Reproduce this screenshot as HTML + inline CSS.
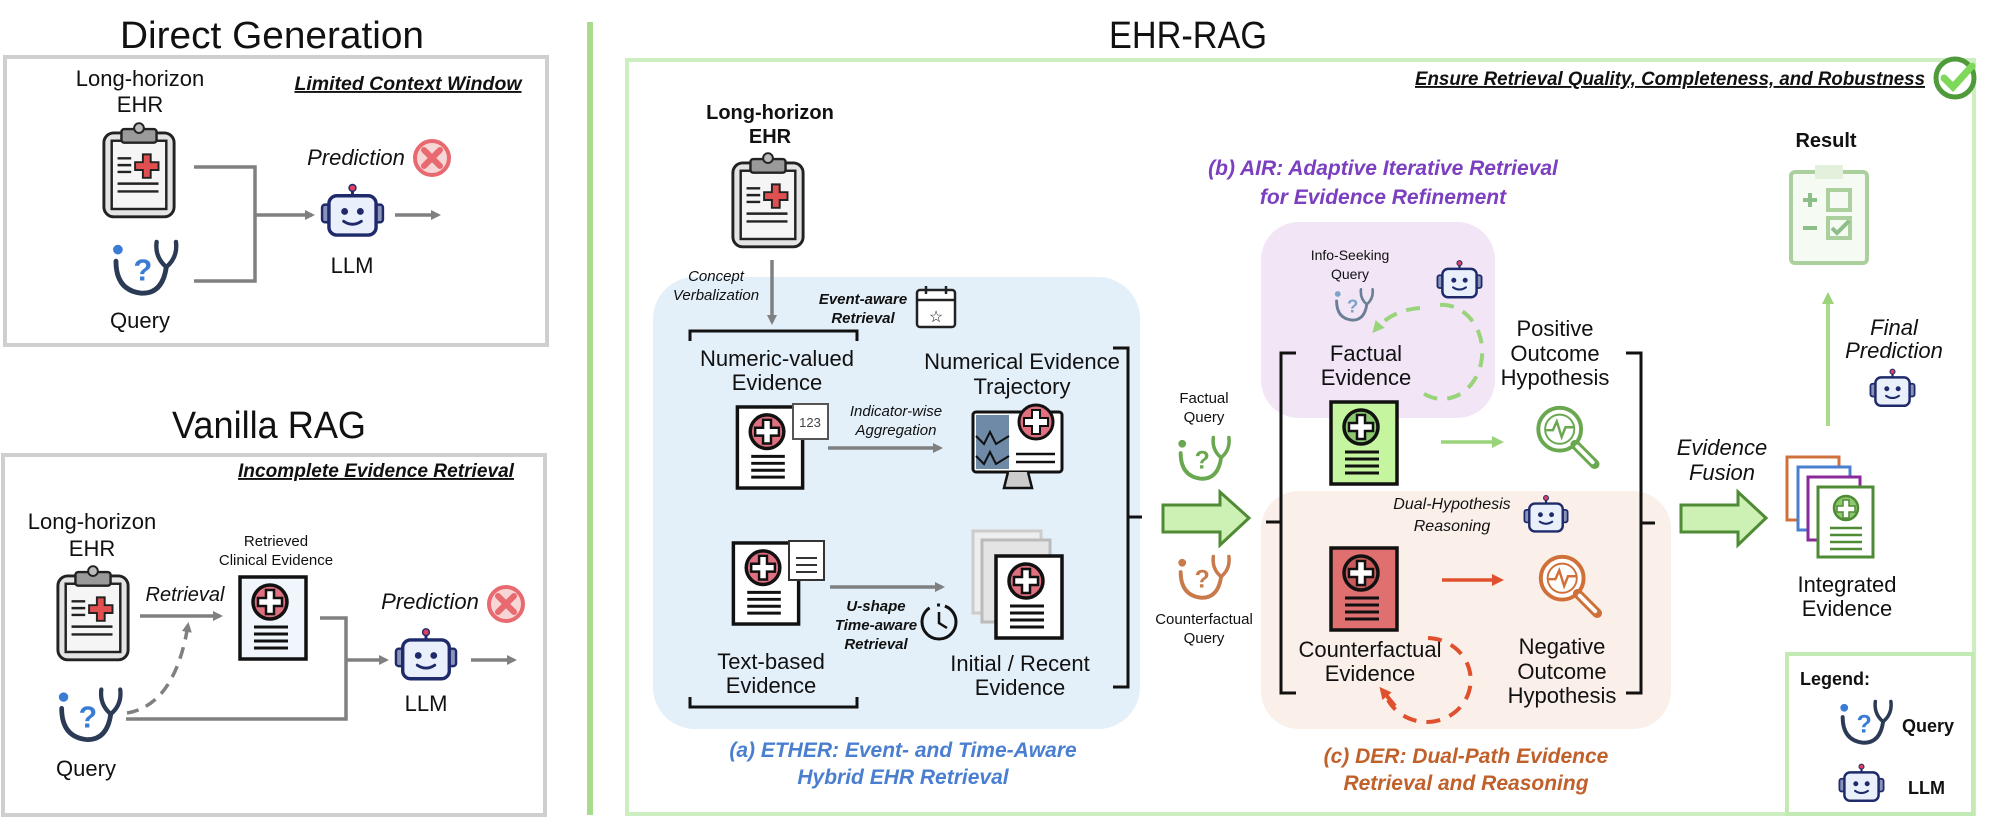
<!DOCTYPE html>
<html><head><meta charset="utf-8"><style>
html,body{margin:0;padding:0;background:#fff;}
svg{display:block;font-family:"Liberation Sans",sans-serif;}
.t{font-size:22px;fill:#111;text-anchor:middle;}
.s{font-size:15px;fill:#111;text-anchor:middle;}
.i{font-style:italic;}
.b{font-weight:bold;}
</style></head><body>
<svg width="2000" height="818" viewBox="0 0 2000 818" xmlns="http://www.w3.org/2000/svg">
<defs>
<marker id="ag" markerWidth="10" markerHeight="10" refX="7" refY="5" orient="auto" markerUnits="userSpaceOnUse"><path d="M0,0 L10,5 L0,10 z" fill="#808080"/></marker>
<marker id="agr" markerWidth="12" markerHeight="12" refX="8" refY="6" orient="auto" markerUnits="userSpaceOnUse"><path d="M0,0 L12,6 L0,12 z" fill="#9ad47a"/></marker>
<marker id="ar" markerWidth="12" markerHeight="12" refX="8" refY="6" orient="auto" markerUnits="userSpaceOnUse"><path d="M0,0 L12,6 L0,12 z" fill="#e0502e"/></marker>
<symbol id="clip" viewBox="0 0 80 100">
<rect x="4" y="12" width="72" height="86" rx="10" fill="#e4e4e4" stroke="#222" stroke-width="3"/>
<rect x="12" y="20" width="56" height="70" fill="#f5f5f5" stroke="#222" stroke-width="2.5"/>
<rect x="22" y="8" width="36" height="14" rx="3" fill="#9a9a9a" stroke="#222" stroke-width="2.5"/>
<circle cx="40" cy="7" r="5" fill="#bbb" stroke="#222" stroke-width="2"/>
<path d="M18 38H32M18 45H32M18 52H32M18 64H60M18 72H60" stroke="#222" stroke-width="2.5"/>
<path d="M44 34h8v8h8v8h-8v8h-8v-8h-8v-8h8z" fill="#e05050" stroke="#222" stroke-width="2"/>
</symbol>
<symbol id="query" viewBox="0 0 72 62">
<circle cx="8" cy="12" r="5"/>
<text x="24" y="44" font-size="32" font-weight="bold" font-family="Liberation Sans,sans-serif">?</text>
<path d="M6 24 Q6 54 32 57 Q54 58 58 30" stroke="currentColor" stroke-width="5" fill="none" stroke-linecap="round"/>
<path d="M58 30 Q46 20 48 4 M58 30 Q70 20 68 4" stroke="currentColor" stroke-width="4.5" fill="none" stroke-linecap="round"/>
</symbol>
<symbol id="robot" viewBox="0 0 66 56">
<line x1="33" y1="5" x2="33" y2="13" stroke="#1f2a6b" stroke-width="3"/>
<circle cx="33" cy="5" r="3.5" fill="#e04060" stroke="#1f2a6b" stroke-width="1.5"/>
<rect x="2" y="22" width="9" height="18" rx="3" fill="#8a93b8" stroke="#1f2a6b" stroke-width="2.5"/>
<rect x="55" y="22" width="9" height="18" rx="3" fill="#8a93b8" stroke="#1f2a6b" stroke-width="2.5"/>
<rect x="9" y="13" width="48" height="40" rx="8" fill="#eaf0fb" stroke="#1f2a6b" stroke-width="3.5"/>
<circle cx="25" cy="29" r="3.5" fill="#1f2a6b"/><circle cx="41" cy="29" r="3.5" fill="#1f2a6b"/>
<path d="M24 39 Q33 45 42 39" stroke="#1f2a6b" stroke-width="3" fill="none" stroke-linecap="round"/>
</symbol>
<symbol id="doc" viewBox="0 0 70 86">
<rect x="2" y="2" width="66" height="82" fill="currentColor" stroke="#111" stroke-width="3.5"/>
<circle cx="32" cy="27" r="17" stroke="#111" stroke-width="3.5"/>
<path d="M28 15h8v8h8v8h-8v8h-8v-8h-8v-8h8z" fill="#fff" stroke="#111" stroke-width="2.5"/>
<path d="M16 52H50M16 59H50M16 66H50M16 73H50" stroke="#111" stroke-width="3"/>
</symbol>
<symbol id="xmark" viewBox="0 0 40 40">
<circle cx="20" cy="20" r="17" fill="#f7d6d6" stroke="#e86a70" stroke-width="4"/>
<path d="M12 12L28 28M28 12L12 28" stroke="#e86a70" stroke-width="6" stroke-linecap="round"/>
</symbol>
<symbol id="mag" viewBox="0 0 70 70">
<circle cx="28" cy="28" r="22" stroke="currentColor" stroke-width="4" fill="#fff"/>
<circle cx="28" cy="28" r="15" stroke="currentColor" stroke-width="2" fill="none"/>
<path d="M14 29H21L25 20L30 36L34 26H42" stroke="currentColor" stroke-width="2.5" fill="none"/>
<path d="M44 44L64 64" stroke="currentColor" stroke-width="10" stroke-linecap="round"/>
<path d="M46 46L62 62" stroke="#fff" stroke-width="4" stroke-linecap="round"/>
</symbol>
</defs>

<!-- LEFT: Direct Generation -->
<text x="272" y="48" class="t" style="font-size:38px" textLength="304" lengthAdjust="spacingAndGlyphs">Direct Generation</text>
<rect x="5" y="57" width="542" height="288" fill="#fff" stroke="#cfcfcf" stroke-width="4"/>
<text x="140" y="86" class="t">Long-horizon</text>
<text x="140" y="112" class="t">EHR</text>
<text x="408" y="90" class="t i b" style="font-size:19px;text-decoration:underline" textLength="227" lengthAdjust="spacingAndGlyphs">Limited Context Window</text>
<use href="#clip" x="100" y="120" width="78" height="100"/>
<use href="#query" x="110" y="238" width="70" height="60" color="#2b3a55" fill="#3a7bd5"/>
<text x="140" y="328" class="t">Query</text>
<path d="M194 167H255V281H194" stroke="#808080" stroke-width="3.5" fill="none"/>
<path d="M255 215H312" stroke="#808080" stroke-width="3.5" marker-end="url(#ag)"/>
<use href="#robot" x="320" y="183" width="65" height="55"/>
<text x="352" y="273" class="t">LLM</text>
<text x="356" y="165" class="t i">Prediction</text>
<use href="#xmark" x="412" y="138" width="40" height="40"/>
<path d="M395 215H438" stroke="#808080" stroke-width="3.5" marker-end="url(#ag)"/>

<!-- LEFT: Vanilla RAG -->
<text x="269" y="438" class="t" style="font-size:38px" textLength="194" lengthAdjust="spacingAndGlyphs">Vanilla RAG</text>
<rect x="3" y="455" width="542" height="360" fill="#fff" stroke="#cfcfcf" stroke-width="4"/>
<text x="376" y="477" class="t i b" style="font-size:19px;text-decoration:underline" textLength="276" lengthAdjust="spacingAndGlyphs">Incomplete Evidence Retrieval</text>
<text x="92" y="529" class="t">Long-horizon</text>
<text x="92" y="556" class="t">EHR</text>
<use href="#clip" x="54" y="563" width="78" height="100"/>
<use href="#query" x="56" y="685" width="68" height="60" color="#2b3a55" fill="#3a7bd5"/>
<text x="86" y="776" class="t">Query</text>
<text x="185" y="601" class="t i" style="font-size:20px">Retrieval</text>
<path d="M140 616H220" stroke="#808080" stroke-width="3.5" marker-end="url(#ag)"/>
<path d="M127 713 Q175 705 188 625" stroke="#808080" stroke-width="3.5" fill="none" stroke-dasharray="12 8" marker-end="url(#ag)"/>
<text x="276" y="546" class="s">Retrieved</text>
<text x="276" y="565" class="s">Clinical Evidence</text>
<use href="#doc" x="238" y="575" width="70" height="86" color="#f0f6fc" fill="#e07080"/>
<path d="M320 618H346V719H126" stroke="#808080" stroke-width="3.5" fill="none"/>
<path d="M346 660H386" stroke="#808080" stroke-width="3.5" marker-end="url(#ag)"/>
<use href="#robot" x="394" y="627" width="64" height="55"/>
<text x="426" y="711" class="t">LLM</text>
<text x="430" y="609" class="t i">Prediction</text>
<use href="#xmark" x="486" y="584" width="40" height="40"/>
<path d="M471 660H514" stroke="#808080" stroke-width="3.5" marker-end="url(#ag)"/>

<!-- divider -->
<line x1="590" y1="22" x2="590" y2="815" stroke="#a8dc8c" stroke-width="6"/>

<!-- EHR-RAG -->
<text x="1188" y="48" class="t" style="font-size:38px" textLength="158" lengthAdjust="spacingAndGlyphs">EHR-RAG</text>
<rect x="627" y="60" width="1347" height="754" fill="#fff" stroke="#cdeec0" stroke-width="4"/>
<text x="1670" y="85" class="t i b" style="font-size:19px;text-decoration:underline" textLength="510" lengthAdjust="spacingAndGlyphs">Ensure Retrieval Quality, Completeness, and Robustness</text>
<circle cx="1955" cy="78" r="19" fill="#fff" stroke="#4f9a3a" stroke-width="5"/>
<path d="M1944 78L1953 87L1972 66" stroke="#7ed85a" stroke-width="7" fill="none" stroke-linecap="round"/>

<!-- ETHER region -->
<rect x="653" y="277" width="487" height="452" rx="42" fill="#e3f0f9"/>
<text x="770" y="119" class="t b" style="font-size:20px">Long-horizon</text>
<text x="770" y="143" class="t b" style="font-size:20px">EHR</text>
<use href="#clip" x="729" y="150" width="78" height="100"/>
<path d="M772 260V322" stroke="#808080" stroke-width="3.5" marker-end="url(#ag)"/>
<text x="716" y="281" class="s i">Concept</text>
<text x="716" y="300" class="s i">Verbalization</text>
<text x="863" y="304" class="s i b">Event-aware</text>
<text x="863" y="323" class="s i b">Retrieval</text>
<rect x="917" y="290" width="38" height="37" rx="3" fill="#fff" stroke="#222" stroke-width="2.5"/>
<path d="M917 300H955M926 286V294M946 286V294" stroke="#222" stroke-width="2.5"/>
<text x="936" y="322" class="s" style="font-size:16px">☆</text>
<path d="M690 341V331H857V341" stroke="#111" stroke-width="3" fill="none"/>
<text x="777" y="366" class="t">Numeric-valued</text>
<text x="777" y="390" class="t">Evidence</text>
<use href="#doc" x="735" y="405" width="70" height="85" color="#fff" fill="#e07080"/>
<rect x="793" y="404" width="35" height="35" fill="#fff" stroke="#555" stroke-width="2"/>
<text x="810" y="427" class="s" style="font-size:13px;fill:#444">123</text>
<text x="896" y="416" class="s i">Indicator-wise</text>
<text x="896" y="435" class="s i">Aggregation</text>
<path d="M828 448H940" stroke="#808080" stroke-width="3.5" marker-end="url(#ag)"/>
<text x="1022" y="369" class="t">Numerical Evidence</text>
<text x="1022" y="394" class="t">Trajectory</text>
<!-- monitor -->
<rect x="973" y="412" width="89" height="60" rx="3" fill="#fff" stroke="#111" stroke-width="3"/>
<rect x="976" y="415" width="33" height="54" fill="#6f8aa6"/>
<path d="M976 436L984 444L990 432L996 444L1009 436M976 456L984 464L990 452L996 464L1009 456" stroke="#111" stroke-width="2" fill="none"/>
<path d="M1016 454H1055M1016 462H1055" stroke="#111" stroke-width="2.5"/>
<path d="M1008 472L1004 488H1032L1028 472" fill="#ccc" stroke="#111" stroke-width="2.5"/>
<circle cx="1036" cy="422" r="17" fill="#e07080" stroke="#111" stroke-width="3"/>
<path d="M1032 410h8v8h8v8h-8v8h-8v-8h-8v-8h8z" fill="#fff" stroke="#111" stroke-width="2"/>
<!-- text doc -->
<use href="#doc" x="731" y="541" width="70" height="85" color="#fff" fill="#e07080"/>
<rect x="789" y="541" width="35" height="39" fill="#fff" stroke="#333" stroke-width="2"/>
<path d="M796 558H817M796 565H817M796 572H817" stroke="#333" stroke-width="2"/>
<path d="M830 587H942" stroke="#808080" stroke-width="3.5" marker-end="url(#ag)"/>
<text x="876" y="611" class="s i b">U-shape</text>
<text x="876" y="630" class="s i b">Time-aware</text>
<text x="876" y="649" class="s i b">Retrieval</text>
<circle cx="939" cy="622" r="17" fill="none" stroke="#111" stroke-width="3" stroke-dasharray="70 8 3 5"/>
<path d="M939 612V623L947 628" stroke="#111" stroke-width="2.5" fill="none"/>
<text x="771" y="669" class="t">Text-based</text>
<text x="771" y="693" class="t">Evidence</text>
<path d="M690 697V707H857V697" stroke="#111" stroke-width="3" fill="none"/>
<!-- stacked docs -->
<rect x="973" y="531" width="68" height="82" fill="#eee" stroke="#ccc" stroke-width="3"/>
<rect x="982" y="540" width="68" height="82" fill="#e4e4e4" stroke="#bbb" stroke-width="3"/>
<use href="#doc" x="994" y="554" width="70" height="86" color="#fff" fill="#e07080"/>
<text x="1020" y="671" class="t">Initial / Recent</text>
<text x="1020" y="695" class="t">Evidence</text>
<path d="M1113 348H1128V687H1113M1128 517H1142" stroke="#111" stroke-width="3" fill="none"/>
<!-- queries -->
<text x="1204" y="403" class="s">Factual</text>
<text x="1204" y="422" class="s">Query</text>
<use href="#query" x="1176" y="434" width="56" height="49" color="#6aa84f" fill="#6aa84f"/>
<path d="M1163 505H1220V492L1249 518L1220 545V532H1163Z" fill="#cdf0b4" stroke="#4f8a35" stroke-width="3"/>
<use href="#query" x="1176" y="553" width="56" height="49" color="#c87a4a" fill="#c87a4a"/>
<text x="1204" y="624" class="s">Counterfactual</text>
<text x="1204" y="643" class="s">Query</text>
<text x="903" y="757" class="t i b" style="font-size:21px;fill:#4a7fd0">(a) ETHER: Event- and Time-Aware</text>
<text x="903" y="784" class="t i b" style="font-size:21px;fill:#4a7fd0">Hybrid EHR Retrieval</text>

<!-- AIR / DER regions -->
<rect x="1261" y="222" width="234" height="196" rx="38" fill="#f1e5f6"/>
<rect x="1261" y="491" width="410" height="238" rx="38" fill="#faf0e9"/>
<text x="1383" y="175" class="t i b" style="font-size:21px;fill:#7b3fc0">(b) AIR: Adaptive Iterative Retrieval</text>
<text x="1383" y="204" class="t i b" style="font-size:21px;fill:#7b3fc0">for Evidence Refinement</text>
<path d="M1296 353H1281V693H1296M1281 522H1266" stroke="#111" stroke-width="3" fill="none"/>
<text x="1350" y="260" class="s" style="font-size:14px">Info-Seeking</text>
<text x="1350" y="279" class="s" style="font-size:14px">Query</text>
<use href="#query" x="1333" y="287" width="42" height="36" color="#6a7f96" fill="#7da4c8"/>
<use href="#robot" x="1436" y="259" width="47" height="41"/>
<path d="M1440 305 A40 47 0 1 1 1420 391" stroke="#9ad47a" stroke-width="4" fill="none" stroke-dasharray="14 10"/>
<path d="M1420 308 Q1392 310 1375 330" stroke="#9ad47a" stroke-width="4" fill="none" stroke-dasharray="14 10" marker-end="url(#agr)"/>
<text x="1366" y="361" class="t">Factual</text>
<text x="1366" y="385" class="t">Evidence</text>
<use href="#doc" x="1328" y="400" width="72" height="86" color="#c6f5a0" fill="#8bc870"/>
<path d="M1441 442H1500" stroke="#9ad47a" stroke-width="3.5" marker-end="url(#agr)"/>
<text x="1555" y="336" class="t">Positive</text>
<text x="1555" y="361" class="t">Outcome</text>
<text x="1555" y="385" class="t">Hypothesis</text>
<use href="#mag" x="1532" y="402" width="69" height="68" color="#6aa84f"/>
<text x="1452" y="509" class="s i" style="font-size:16px">Dual-Hypothesis</text>
<text x="1452" y="531" class="s i" style="font-size:16px">Reasoning</text>
<use href="#robot" x="1523" y="494" width="46" height="40"/>
<use href="#doc" x="1328" y="546" width="72" height="86" color="#e07070" fill="#c85a5a"/>
<path d="M1442 580H1500" stroke="#e0502e" stroke-width="3.5" marker-end="url(#ar)"/>
<use href="#mag" x="1534" y="551" width="70" height="68" color="#d07038"/>
<text x="1370" y="657" class="t">Counterfactual</text>
<text x="1370" y="681" class="t">Evidence</text>
<path d="M1428 638 A44 42 0 1 1 1388 700" stroke="#e0502e" stroke-width="4" fill="none" stroke-dasharray="14 10"/>
<path d="M1395 706 L1382 690" stroke="#e0502e" stroke-width="4" marker-end="url(#ar)"/>
<text x="1562" y="654" class="t">Negative</text>
<text x="1562" y="679" class="t">Outcome</text>
<text x="1562" y="703" class="t">Hypothesis</text>
<path d="M1626 353H1641V693H1626M1641 523H1655" stroke="#111" stroke-width="3" fill="none"/>
<text x="1466" y="763" class="t i b" style="font-size:21px;fill:#c0602a">(c) DER: Dual-Path Evidence</text>
<text x="1466" y="790" class="t i b" style="font-size:21px;fill:#c0602a">Retrieval and Reasoning</text>

<!-- fusion -->
<text x="1722" y="455" class="t i">Evidence</text>
<text x="1722" y="480" class="t i">Fusion</text>
<path d="M1681 505H1738V492L1766 518L1738 545V532H1681Z" fill="#cdf0b4" stroke="#4f8a35" stroke-width="3"/>
<rect x="1787" y="457" width="52" height="63" fill="#fff" stroke="#d0703a" stroke-width="3"/>
<rect x="1798" y="467" width="52" height="63" fill="#fff" stroke="#4a7fd0" stroke-width="3"/>
<rect x="1808" y="477" width="52" height="63" fill="#fff" stroke="#8a2a9a" stroke-width="3"/>
<rect x="1818" y="487" width="55" height="70" fill="#fff" stroke="#4f8a35" stroke-width="3"/>
<circle cx="1846" cy="508" r="12" fill="#8bc870" stroke="#4f8a35" stroke-width="2.5"/>
<path d="M1843 500h6v6h6v6h-6v6h-6v-6h-6v-6h6z" fill="#fff" stroke="#4f8a35" stroke-width="1.5"/>
<path d="M1830 528H1862M1830 535H1862M1830 542H1862M1830 549H1862" stroke="#4f8a35" stroke-width="2.5"/>
<text x="1847" y="592" class="t">Integrated</text>
<text x="1847" y="616" class="t">Evidence</text>
<path d="M1828 426V296" stroke="#a8dc8c" stroke-width="4" marker-end="url(#agr)"/>
<text x="1826" y="147" class="t b" style="font-size:20px">Result</text>
<g opacity="0.55">
<rect x="1791" y="172" width="76" height="91" rx="4" fill="#eef7ea" stroke="#6aa84f" stroke-width="4"/>
<rect x="1815" y="165" width="28" height="14" fill="#cde6c0"/>
<path d="M1803 200h14M1810 193v14M1803 228h14" stroke="#2e8a2e" stroke-width="4"/>
<rect x="1828" y="190" width="22" height="20" fill="none" stroke="#6aa84f" stroke-width="4"/>
<rect x="1828" y="218" width="22" height="20" fill="none" stroke="#6aa84f" stroke-width="4"/>
<path d="M1832 228l5 5l12-12" stroke="#2e8a2e" stroke-width="4" fill="none"/>
</g>
<text x="1894" y="335" class="t i">Final</text>
<text x="1894" y="358" class="t i">Prediction</text>
<use href="#robot" x="1869" y="368" width="47" height="40"/>

<!-- legend -->
<rect x="1787" y="654" width="186" height="160" fill="#fff" stroke="#c4eab4" stroke-width="4"/>
<text x="1800" y="685" class="b" style="font-size:18px;fill:#111">Legend:</text>
<use href="#query" x="1838" y="698" width="56" height="49" color="#2b3a55" fill="#3a7bd5"/>
<text x="1902" y="732" class="b" style="font-size:18px;fill:#111">Query</text>
<use href="#robot" x="1838" y="763" width="47" height="40"/>
<text x="1908" y="794" class="b" style="font-size:18px;fill:#111">LLM</text>
</svg>
</body></html>
